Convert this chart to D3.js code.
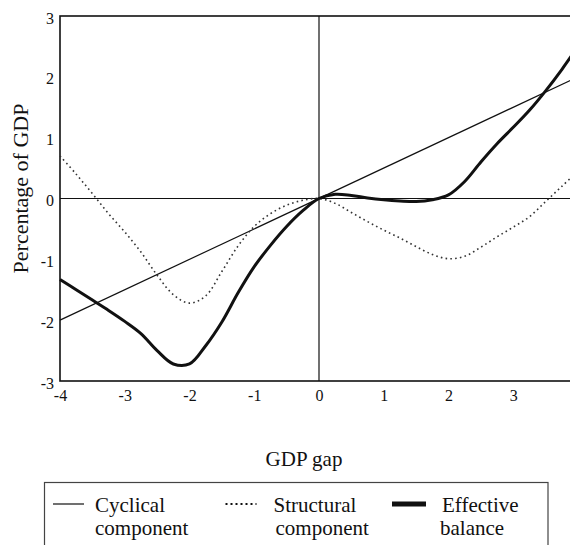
<!DOCTYPE html>
<html>
<head>
<meta charset="utf-8">
<script src="https://cdn.jsdelivr.net/npm/d3@7"></script>
<style>
  body { margin: 0; background: #fff; }
  svg { display: block; font-family: "Liberation Serif", "DejaVu Serif", serif; }
  svg text { font-family: "Liberation Serif", "DejaVu Serif", serif; }
</style>
</head>
<body>
<svg id="chart" width="570" height="545"></svg>
<script>
// GDP gap grid (x) for the two curved series
const gdpGap = [-4, -3.75, -3.5, -3.25, -3, -2.75, -2.5, -2.25, -2, -1.75, -1.5, -1.25, -1, -0.75, -0.5, -0.25,
  0, 0.25, 0.5, 0.75, 1, 1.25, 1.5, 1.75, 2, 2.25, 2.5, 2.75, 3, 3.25, 3.5, 3.75, 4];
const structural = [0.70, 0.40, 0.08, -0.25, -0.55, -0.88, -1.26, -1.58, -1.72, -1.60, -1.20, -0.78, -0.46, -0.25, -0.11, -0.03,
  0, -0.08, -0.23, -0.38, -0.52, -0.65, -0.79, -0.92, -0.99, -0.95, -0.80, -0.63, -0.47, -0.30, -0.05, 0.20, 0.45];
const effective = [-1.33, -1.50, -1.67, -1.84, -2.02, -2.22, -2.50, -2.72, -2.72, -2.42, -2.03, -1.55, -1.12, -0.77, -0.46, -0.20,
  0, 0.07, 0.05, 0.01, -0.02, -0.04, -0.05, -0.02, 0.06, 0.28, 0.60, 0.90, 1.17, 1.45, 1.77, 2.12, 2.50];
// cyclical component is a straight line
const cyclicalX = [-4, 4];
const cyclicalY = [-2, 2];

const xTicks = [-4, -3, -2, -1, 0, 1, 2, 3, 4];
const yTicks = [-3, -2, -1, 0, 1, 2, 3];
const legendItems = [
  {lines: ['Cyclical', 'component'], type: 'thin'},
  {lines: ['Structural', 'component'], type: 'dotted'},
  {lines: ['Effective', 'balance'], type: 'thick'}
];

const svg = d3.select('#chart');
const ink = '#111';

const x = d3.scaleLinear().domain([-4, 4]).range([60, 578]);
const y = d3.scaleLinear().domain([-3, 3]).range([381, 16]);

// frame
svg.append('rect')
  .attr('x', x(-4)).attr('y', y(3))
  .attr('width', x(4) - x(-4)).attr('height', y(-3) - y(3))
  .attr('fill', 'none').attr('stroke', ink).attr('stroke-width', 1.6);

// zero lines
svg.append('line')
  .attr('x1', x(-4)).attr('x2', x(4)).attr('y1', y(0)).attr('y2', y(0))
  .attr('stroke', ink).attr('stroke-width', 1.2);
svg.append('line')
  .attr('x1', x(0)).attr('x2', x(0)).attr('y1', y(3)).attr('y2', y(-3))
  .attr('stroke', ink).attr('stroke-width', 1.2);

// axes (labels only)
svg.append('g')
  .attr('transform', `translate(0,${y(-3) + 6})`)
  .call(d3.axisBottom(x).tickValues(xTicks).tickSize(0).tickFormat(d => String(d)))
  .call(g => g.select('.domain').remove())
  .call(g => g.selectAll('text').attr('fill', ink).style('font-size', '16px'));

svg.append('g')
  .attr('transform', `translate(${x(-4) - 3},2)`)
  .call(d3.axisLeft(y).tickValues(yTicks).tickSize(0).tickFormat(d => String(d)))
  .call(g => g.select('.domain').remove())
  .call(g => g.selectAll('text').attr('fill', ink).style('font-size', '16px'));

// series
const line = d3.line()
  .x(d => x(d[0]))
  .y(d => y(d[1]))
  .curve(d3.curveCatmullRom.alpha(0.5));

svg.append('path')
  .datum(cyclicalX.map((v, i) => [v, cyclicalY[i]]))
  .attr('d', d3.line().x(d => x(d[0])).y(d => y(d[1])))
  .attr('fill', 'none').attr('stroke', ink).attr('stroke-width', 1.2);

svg.append('path')
  .datum(gdpGap.map((v, i) => [v, structural[i]]))
  .attr('d', line)
  .attr('fill', 'none').attr('stroke', '#333').attr('stroke-width', 1.6)
  .attr('stroke-dasharray', '1.6,3.2');

svg.append('path')
  .datum(gdpGap.map((v, i) => [v, effective[i]]))
  .attr('d', line)
  .attr('fill', 'none').attr('stroke', ink).attr('stroke-width', 3);

// axis titles
svg.append('text')
  .attr('transform', `translate(28,${y(0) - 10}) rotate(-90)`)
  .attr('text-anchor', 'middle')
  .attr('font-size', 22).attr('fill', ink)
  .text('Percentage of GDP');

svg.append('text')
  .attr('x', 304).attr('y', 466)
  .attr('text-anchor', 'middle')
  .attr('font-size', 21).attr('fill', ink)
  .text('GDP gap');

// legend
const legend = svg.append('g');
legend.append('rect')
  .attr('x', 44.5).attr('y', 482.5).attr('width', 503.5).attr('height', 80)
  .attr('fill', 'none').attr('stroke', '#444').attr('stroke-width', 1.2);

const legendX = d3.scalePoint().domain(legendItems.map(d => d.lines[0])).range([53, 392]);
const textOffset = [[42, 42], [48, 50], [50, 48]];
const item = legend.selectAll('g.item')
  .data(legendItems)
  .join('g')
  .attr('class', 'item')
  .attr('transform', d => `translate(${legendX(d.lines[0]) + (d.type === 'dotted' ? 3 : 0)},0)`);

item.append('line')
  .attr('x1', 0).attr('x2', d => d.type === 'thick' ? 34 : 31)
  .attr('y1', 504).attr('y2', 504)
  .attr('stroke', ink)
  .attr('stroke-width', d => d.type === 'thick' ? 5 : (d.type === 'dotted' ? 2 : 1.2))
  .attr('stroke-dasharray', d => d.type === 'dotted' ? '2,3' : null);

item.append('text')
  .attr('x', (d, i) => textOffset[i][0]).attr('y', 512)
  .attr('font-size', 21).attr('fill', ink)
  .text(d => d.lines[0]);
item.append('text')
  .attr('x', (d, i) => textOffset[i][1]).attr('y', 535)
  .attr('font-size', 21).attr('fill', ink)
  .text(d => d.lines[1]);
</script>
</body>
</html>
